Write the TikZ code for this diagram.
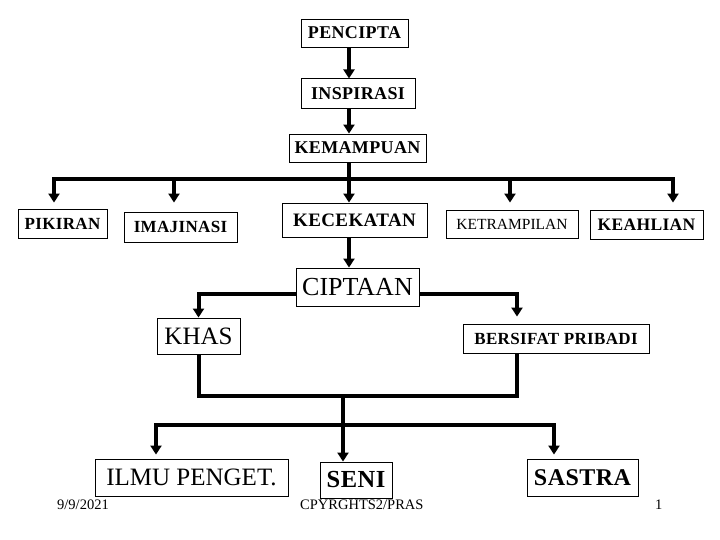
\documentclass[tikz,border=0pt]{standalone}
\usepackage{fontspec}
\setmainfont{Liberation Serif}[BoldFeatures={LetterSpace=2}]
\usepackage{tikz}
\usetikzlibrary{positioning}
\usetikzlibrary{arrows.meta}
\tikzstyle{garis} = [draw, line width=4pt]
\tikzstyle{panah} = [draw, line width=4pt, -{Stealth[inset=0pt, length=9pt, width=11pt]}]
\newcommand{\ukuran}[1]{\fontsize{#1}{#1}\selectfont}

\begin{document}
\begin{tikzpicture}[x=1pt, y=-1pt,
				kotak/.style={draw, rectangle, line width=0.9pt, inner sep=0pt, align=center},
				tebal/.style={kotak, font=\ukuran{17}\bfseries},
				besar/.style={kotak, font=\ukuran{25}},
				kaki/.style={inner sep=0pt, anchor=base west, font=\ukuran{14.5}}]
				\useasboundingbox (0,0) rectangle (720,540);
				\coordinate (poros) at (349,0);
				
				\node[tebal, font=\ukuran{18}\bfseries, minimum width=107pt, minimum height=28pt](pencipta) at (354.5,33) {PENCIPTA};
				\node[tebal, font=\ukuran{18}\bfseries, minimum width=114pt, minimum height=30pt, below=31pt of pencipta.south west, anchor=north west](inspirasi) {INSPIRASI};
				\node[tebal, font=\ukuran{18}\bfseries, minimum width=137pt, minimum height=28pt](kemampuan) at (357.5,148) {KEMAMPUAN};
				
				\node[tebal, minimum width=89pt, minimum height=29pt](pikiran) at (62.5,223.5) {PIKIRAN};
				\node[tebal, minimum width=113pt, minimum height=30pt](imajinasi) at (180.5,227) {IMAJINASI};
				\node[tebal, font=\ukuran{19}\bfseries, minimum width=145pt, minimum height=34pt](kecekatan) at (354.5,220) {KECEKATAN};
				\node[kotak, font=\ukuran{15.5}, minimum width=132pt, minimum height=28pt](ketrampilan) at (512,224) {KETRAMPILAN};
				\node[tebal, font=\ukuran{17.5}\bfseries, minimum width=113pt, minimum height=29pt](keahlian) at (646.5,224.5) {KEAHLIAN};
				
				\node[besar, font=\ukuran{26}, minimum width=123pt, minimum height=38pt](ciptaan) at (357.5,287) {CIPTAAN};
				\node[besar, minimum width=83pt, minimum height=36pt](khas) at (198.5,336) {KHAS};
				\node[tebal, minimum width=186pt, minimum height=29pt](pribadi) at (556,338.5) {BERSIFAT PRIBADI};
				
				\node[besar, minimum width=193pt, minimum height=37pt](ilmu) at (191.5,477.5) {ILMU PENGET.};
				\node[besar, font=\ukuran{24.5}\bfseries, minimum width=72pt, minimum height=36pt](seni) at (356,480) {SENI};
				\node[besar, font=\ukuran{24}\bfseries, minimum width=111pt, minimum height=37pt](sastra) at (582.5,477.5) {SASTRA};
				
				\node[kaki](tanggal) at (57,509) {9/9/2021};
				\node[kaki](hakcipta) at (300,509) {CPYRGHTS2/PRAS};
				\node[kaki](halaman) at (655,509) {1};
				
				\draw[panah] (poros |- pencipta.south) -- (poros |- inspirasi.north);
				\draw[panah] (poros |- inspirasi.south) -- (poros |- kemampuan.north);
				\foreach \x in {54, 174, 349, 510, 673}
					\draw[panah] (poros |- kemampuan.south) |- (\x,179) -- (\x,0 |- kecekatan.north);
				
				\draw[panah] (poros |- kecekatan.south) -- (poros |- ciptaan.north);
				\draw[panah] ([yshift=-7pt]ciptaan.west) -| (khas.north);
				\draw[panah] ([yshift=-7pt]ciptaan.east) -| ([xshift=-39pt, yshift=7pt]pribadi.north);
				
				\coordinate (temu) at (343,396);
				\coordinate (cabang) at (343,425);
				\draw[garis] (khas.south) |- (temu) -| ([xshift=-39pt]pribadi.south);
				\draw[panah] (temu) -- (cabang) -| ([xshift=-35.5pt, yshift=4pt]ilmu.north);
				\draw[panah] (temu) -- (temu |- seni.north);
				\draw[panah] (temu) -- (cabang) -| ([xshift=-28.5pt, yshift=4pt]sastra.north);
			\end{tikzpicture}
\end{document}
